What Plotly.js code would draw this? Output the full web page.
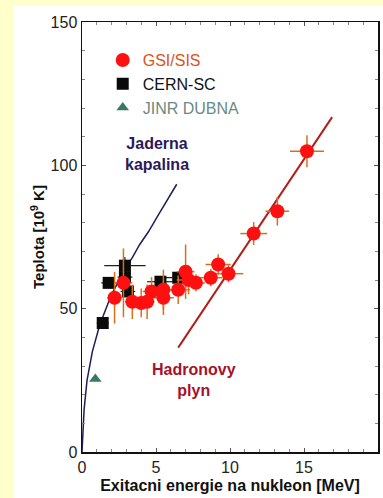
<!DOCTYPE html>
<html>
<head>
<meta charset="utf-8">
<script src="https://cdn.plot.ly/plotly-3.0.1.min.js"></script>
<style>
html, body { margin: 0; padding: 0; background: #FFFFCC; width: 383px; height: 498px; overflow: hidden; }
#chart { position: absolute; left: 13px; top: 6px; width: 370px; height: 492px; background: #ffffff; }
</style>
</head>
<body>
<div id="chart"></div>
<script>
// GSI/SIS
const gsiE  = [2.2, 2.8, 3.4, 4.0, 4.4, 4.7, 5.5, 5.5, 6.5, 7.0, 7.2, 7.7, 8.7, 9.2, 9.9, 11.6, 13.2, 15.2];
const gsiT  = [53.8, 59.0, 52.4, 52.0, 52.4, 56.0, 56.6, 53.8, 56.6, 62.9, 60.0, 59.0, 60.8, 65.4, 62.2, 76.2, 84.0, 104.9];
const gsiEx = [0.5, 0.6, 0.5, 0.5, 0.5, 0.6, 0.7, 0.7, 0.8, 0.6, 0.8, 0.6, 0.8, 0.85, 1.0, 0.9, 0.8, 1.15];
const gsiTy = [9, 12, 6, 5, 6, 5, 7, 6, 5, 9.5, 5, 3, 3, 3.6, 3, 4, 5, 5.6];
// CERN-SC
const cernE  = [1.4, 1.8, 2.9, 2.9, 3.1, 5.3, 6.5];
const cernT  = [45.0, 59.0, 65.0, 61.0, 56.0, 59.4, 60.8];
const cernEx = [0.4, 0.5, 1.4, 0.5, 0.5, 0.9, 1.4];
const cernTy = [1, 1.5, 3, 3, 2, 2, 1.5];
// JINR DUBNA
const jinrE = [0.9];
const jinrT = [25.5];
// Jaderna kapalina curve
const kapE = [0, 0.05, 0.14, 0.34, 0.7, 1.2, 2.0, 3.0, 3.4, 3.9, 4.5, 5.1, 5.7, 6.4];
const kapT = [0, 6, 14.7, 25, 35, 44.4, 55, 64.7, 67.8, 72.4, 76.9, 82.2, 87.4, 93.4];
// Hadronovy plyn line
const hadE = [6.5, 16.9];
const hadT = [36.4, 116.8];

const FONT = 'Liberation Sans, Arial, sans-serif';

const traces = [
  { x: kapE, y: kapT, mode: 'lines', line: { color: '#1e1e5a', width: 1.5 }, showlegend: false, hoverinfo: 'skip' },
  { x: hadE, y: hadT, mode: 'lines', line: { color: '#b0201a', width: 2 }, showlegend: false, hoverinfo: 'skip' },
  { x: cernE, y: cernT, mode: 'markers', type: 'scatter', legendrank: 2,
    name: '<span style="color:#111118">CERN-SC</span>',
    marker: { symbol: 'square', size: 12, color: '#0a0a0a' },
    error_x: { type: 'data', array: cernEx, color: '#222222', thickness: 1.2, width: 0 },
    error_y: { type: 'data', array: cernTy, color: '#222222', thickness: 1.2, width: 0 } },
  { x: gsiE, y: gsiT, mode: 'markers', type: 'scatter', legendrank: 1,
    name: '<span style="color:#e0501a">GSI/SIS</span>',
    marker: { symbol: 'circle', size: 14, color: '#ff1010' },
    error_x: { type: 'data', array: gsiEx, color: '#d8701a', thickness: 1.5, width: 0 },
    error_y: { type: 'data', array: gsiTy, color: '#d8701a', thickness: 1.5, width: 0 } },
  { x: jinrE, y: jinrT, mode: 'markers', type: 'scatter', legendrank: 3,
    name: '<span style="color:#6a8a84">JINR DUBNA</span>',
    marker: { symbol: 'triangle-up', size: 11, color: '#3a7a60' } }
];

const layout = {
  width: 370, height: 492,
  margin: { l: 69, r: 5, t: 16, b: 46 },
  paper_bgcolor: '#ffffff', plot_bgcolor: '#ffffff',
  font: { family: FONT, size: 16, color: '#222222' },
  showlegend: true,
  legend: {
    x: 0.07, y: 0.951, xanchor: 'left', yanchor: 'top',
    bgcolor: 'rgba(0,0,0,0)', borderwidth: 0,
    font: { family: FONT, size: 16 },
    itemwidth: 30, tracegroupgap: 0,
    traceorder: 'normal'
  },
  xaxis: {
    range: [0, 20], tickvals: [0, 5, 10, 15, 20], ticktext: ['0', '5', '10', '15', '20'],
    showgrid: false, zeroline: false, showline: true, linecolor: '#111', linewidth: 1.5,
    mirror: 'allticks', ticks: 'inside', ticklen: 4, tickcolor: '#555',
    minor: { dtick: 1, ticks: 'inside', ticklen: 3, tickcolor: '#888' },
    tickfont: { family: FONT, size: 16, color: '#222' },
    title: { text: '<b>Exitacni energie na nukleon [MeV]</b>', font: { family: FONT, size: 16, color: '#111' }, standoff: 5 }
  },
  yaxis: {
    range: [0, 150], tickvals: [0, 50, 100, 150], ticktext: ['0', '50', '100', '150'],
    showgrid: false, zeroline: false, showline: true, linecolor: '#111', linewidth: 1.5,
    mirror: 'allticks', ticks: 'inside', ticklen: 4, tickcolor: '#555',
    minor: { dtick: 10, ticks: 'inside', ticklen: 3, tickcolor: '#888' },
    tickfont: { family: FONT, size: 16, color: '#222' },
    title: { text: '<b>Teplota [10<sup>9</sup> K]</b>', font: { family: FONT, size: 15, color: '#111' }, standoff: 2 }
  },
  annotations: [
    { x: 5.1, y: 104, xref: 'x', yref: 'y', text: '<b>Jaderna<br>kapalina</b>', showarrow: false,
      font: { family: FONT, size: 16, color: '#2a1a5a' }, align: 'center' },
    { x: 7.6, y: 25, xref: 'x', yref: 'y', text: '<b>Hadronovy<br>plyn</b>', showarrow: false,
      font: { family: FONT, size: 16, color: '#a8102a' }, align: 'center' }
  ]
};

Plotly.newPlot('chart', traces, layout, { displayModeBar: false, staticPlot: true });
</script>
</body>
</html>
